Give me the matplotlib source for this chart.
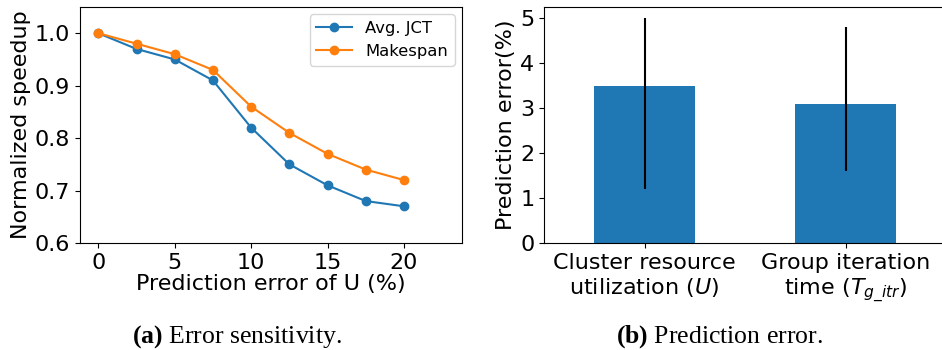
import matplotlib
matplotlib.use("Agg")
import matplotlib.pyplot as plt
import numpy as np

# Sensitivity of speedup to prediction error of U
pred_err = [0, 2.5, 5, 7.5, 10, 12.5, 15, 17.5, 20]
avg_jct = [1.00, 0.97, 0.95, 0.91, 0.82, 0.75, 0.71, 0.68, 0.67]
makespan = [1.00, 0.98, 0.96, 0.93, 0.86, 0.81, 0.77, 0.74, 0.72]

# Prediction error of the two estimated quantities
bar_labels = ["Cluster resource\nutilization ($U$)",
              "Group iteration\ntime ($T_{g\\_itr}$)"]
bar_means = [3.5, 3.1]
err_low = [1.2, 1.6]
err_high = [5.0, 4.8]

plt.rcParams["mathtext.fontset"] = "custom"
plt.rcParams["mathtext.rm"] = "DejaVu Sans"
plt.rcParams["mathtext.it"] = "DejaVu Sans:italic"
plt.rcParams["mathtext.bf"] = "Liberation Serif:bold"

W, H = 942, 350
fig = plt.figure(figsize=(W / 100, H / 100), dpi=100)

def box(x0, y0, x1, y1):
    return [x0 / W, 1 - y1 / H, (x1 - x0) / W, (y1 - y0) / H]

fs = 16

ax1 = fig.add_axes(box(80, 7, 462, 243))
ax1.plot(pred_err, avg_jct, "-o", color="#1f77b4", lw=1.5, ms=6, label="Avg. JCT")
ax1.plot(pred_err, makespan, "-o", color="#ff7f0e", lw=1.5, ms=6, label="Makespan")
ax1.set_xlim(-1.2, 23.8)
ax1.set_ylim(0.6, 1.05)
ax1.set_xticks([0, 5, 10, 15, 20])
ax1.set_yticks([0.6, 0.7, 0.8, 0.9, 1.0])
ax1.tick_params(labelsize=fs)
ax1.set_xlabel("Prediction error of U (%)", fontsize=fs, labelpad=1)
ax1.set_ylabel("Normalized speedup", fontsize=fs, labelpad=3)
ax1.legend(loc="upper right", fontsize=11.8, handlelength=2.2, borderaxespad=0.45)

ax2 = fig.add_axes(box(544, 7, 946, 243))
xpos = np.arange(len(bar_means))
lower = [m - l for m, l in zip(bar_means, err_low)]
upper = [h - m for m, h in zip(bar_means, err_high)]
ax2.bar(xpos, bar_means, width=0.5, color="#1f77b4",
        yerr=[lower, upper], ecolor="black", error_kw=dict(lw=1.5, capsize=0))
ax2.set_xlim(-0.5, 1.5)
ax2.set_ylim(0, 5.25)
ax2.set_xticks(xpos)
ax2.set_xticklabels(bar_labels)
ax2.set_yticks([0, 1, 2, 3, 4, 5])
ax2.tick_params(labelsize=fs)
ax2.set_ylabel("Prediction error(%)", fontsize=fs, labelpad=3)

serif = ["Liberation Serif", "DejaVu Serif"]
fig.text(237 / W, 1 - 343 / H, r"$\mathbf{(a)}$ Error sensitivity.", ha="center",
         va="baseline", fontsize=18.5, family=serif)
fig.text(719.5 / W, 1 - 343 / H, r"$\mathbf{(b)}$ Prediction error.", ha="center",
         va="baseline", fontsize=18.5, family=serif)

fig.savefig("out.png", dpi=100)
